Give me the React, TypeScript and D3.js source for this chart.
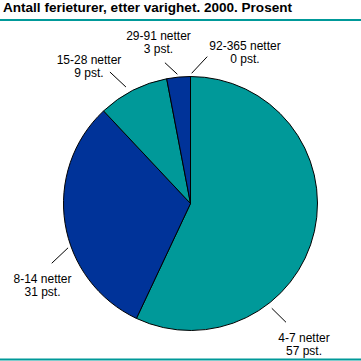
import React from "react";
import * as d3 from "d3";

const categories = ["4-7 netter", "8-14 netter", "15-28 netter", "29-91 netter", "92-365 netter"];
const values = [57, 31, 9, 3, 0];
const valueLabels = ["57 pst.", "31 pst.", "9 pst.", "3 pst.", "0 pst."];
const title = "Antall ferieturer, etter varighet. 2000. Prosent";

const W = 361;
const H = 361;
const cx = 190.5;
const cy = 203.5;
const R = 127;
const colors = ["#009999", "#003399", "#009999", "#003399", "#009999"];

// label layout: leader line (angle deg, radius offset) and text anchor
const layout = [
  { a1: 142.2, r1: 5.6, a2: 141.2, r2: 25.4, tx: 304, ty: 342 },
  { a1: 250.1, r1: 3.2, a2: 246.7, r2: 24.1, tx: 42.5, ty: 283 },
  { a1: 331, r1: 6.2, a2: 328.5, r2: 27.2, tx: 89, ty: 64 },
  { a1: 354.2, r1: 2.9, a2: 349.7, r2: 16.1, tx: 158.5, ty: 40 },
  { a1: 0.5, r1: 3.2, a2: 6.5, r2: 20.8, tx: 245, ty: 50 },
];

export default function App() {
  const pie = d3.pie<number>().sort(null).value((d) => d)(values);
  const arc = d3.arc<d3.PieArcDatum<number>>().innerRadius(0).outerRadius(R);
  const rad = (deg: number) => (deg * Math.PI) / 180;
  const font = "'Liberation Sans', Arial, sans-serif";
  return (
    <div style={{ position: "fixed", left: 0, top: 0 }}>
      <svg width={W} height={H} style={{ display: "block", background: "#fff" }}>
        <text x={3} y={12} fontFamily={font} fontWeight="bold" fontSize={12.5} fill="#000"
          textLength={289} lengthAdjust="spacingAndGlyphs">{title}</text>
        <line x1={0} x2={W} y1={20} y2={20} stroke="#009999" strokeWidth={2} />
        <line x1={0} x2={W} y1={359.5} y2={359.5} stroke="#009999" strokeWidth={2} />
        <g transform={`translate(${cx},${cy})`}>
          {pie.map((p, i) => (
            <path key={i} d={arc(p) || ""} fill={colors[i]} stroke="#000" strokeWidth={1} />
          ))}
          {layout.map((l, i) => {
            const [x1, y1] = d3.pointRadial(rad(l.a1), R + l.r1);
            const [x2, y2] = d3.pointRadial(rad(l.a2), R + l.r2);
            return <line key={i} x1={x1} y1={y1} x2={x2} y2={y2} stroke="#000" strokeWidth={1} />;
          })}
        </g>
        {layout.map((l, i) => (
          <text key={i} x={l.tx} y={l.ty} textAnchor="middle" fontFamily={font} fontSize={12} fill="#000">
            <tspan x={l.tx} dy={0}>{categories[i]}</tspan>
            <tspan x={l.tx} dy={13}>{valueLabels[i]}</tspan>
          </text>
        ))}
      </svg>
    </div>
  );
}
